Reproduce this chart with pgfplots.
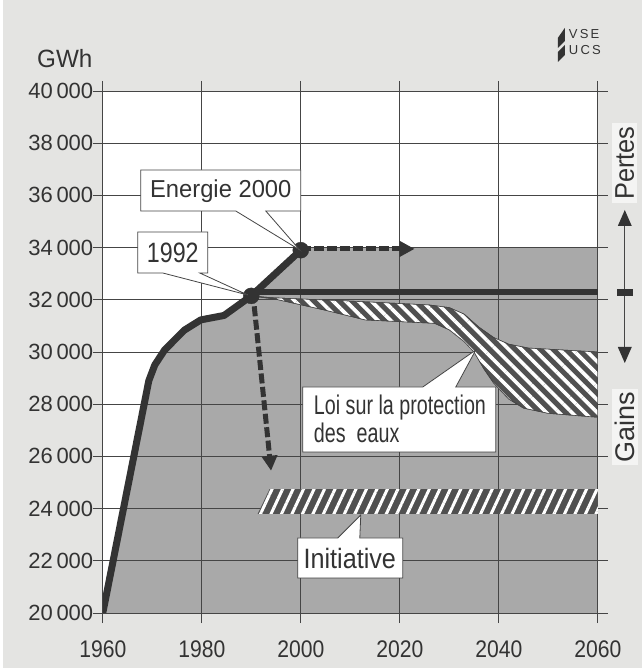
\documentclass[border=0pt]{standalone}
\usepackage{pgfplots}
\pgfplotsset{compat=1.18}
\usepackage{fontspec}
\setmainfont{Liberation Sans}
\newfontfamily\fx{Liberation Sans}[FakeStretch=0.88]
\usetikzlibrary{patterns.meta,arrows.meta}
\definecolor{paper}{HTML}{E4E4E2}
\definecolor{fillgray}{HTML}{A9A9A9}
\definecolor{gridc}{HTML}{454545}
\definecolor{linec}{HTML}{333333}
\definecolor{banddark}{HTML}{505050}
\begin{document}
\pgfplotsset{set layers}
\begin{tikzpicture}
\begin{pgfonlayer}{axis background}
\fill[paper] (0pt,0pt) rectangle (639pt,668pt);
\fill[white] (100pt,55pt) rectangle (595pt,577pt);
\end{pgfonlayer}
\begin{axis}[
  at={(100pt,55pt)}, anchor=south west,
  width=495pt, height=522pt, scale only axis,
  xmin=1960, xmax=2060, ymin=20000, ymax=40000,
  xtick={1960,1980,...,2060}, ytick={20000,22000,...,40000},
  grid=major, grid style={draw=gridc, line width=0.8pt},
  axis line style={draw=gridc, line width=0.9pt},
  tick style={draw=gridc, line width=0.9pt},
  tick align=outside, major tick length=10pt,
  scaled y ticks=false,
  /pgf/number format/assume math mode=true,
  yticklabel style={font=\fontsize{22}{22}\selectfont, text=linec,
     /pgf/number format/.cd, 1000 sep={\,}},
  xticklabel style={font=\fx\fontsize{24}{24}\selectfont, text=linec,
     /pgf/number format/.cd, 1000 sep={}},
  yticklabel shift=-4pt, xticklabel shift=14pt,
]
% gray area below the curve / 34000 level
\addplot[on layer=axis background, fill=fillgray, draw=none]
  coordinates {(1960,20000) (1969.3,28900) (1970.5,29500) (1972.5,30080)
  (1976.5,30840) (1979.8,31230) (1984.5,31400) (1990,32150) (2000,33900)
  (2000,34000) (2060,34000) (2060,20000)} --cycle;
% Loi sur la protection des eaux band
\addplot[draw=gridc, line width=0.6pt, fill=banddark,
  postaction={pattern={Lines[angle=-45,distance=9pt,line width=3.6pt]}, pattern color=white}]
  coordinates {(1990,32150) (1994,32080) (2010,31950) (2026,31800) (2030,31700)
  (2033,31450) (2036,30950) (2039,30550) (2042,30300) (2046,30150) (2060,30000)
  (2060,27500) (2050,27650) (2045,27850) (2042,28200) (2039,28800) (2037,29350)
  (2035,30000) (2033,30400) (2030,30850) (2027,31100) (2013,31230) (2005,31600)
  (1995,32020)} --cycle;
% Initiative band
\addplot[draw=none, fill=banddark,
  postaction={pattern={Lines[angle=65,distance=9.5pt,line width=3pt]}, pattern color=white}]
  coordinates {(1991.3,23800) (1993.7,24750) (2060,24750) (2060,23800)} --cycle;
% thick 1992 level
\addplot[line width=6.5pt, color=linec] coordinates {(1990,32300) (2060,32300)};
% main curve
\addplot[line width=7pt, color=linec, line join=round]
  coordinates {(1960,20000) (1969.3,28900) (1970.5,29500) (1972.5,30080)
  (1976.5,30840) (1979.8,31230) (1984.5,31400) (1990,32150) (2000,33900)};
% dashed arrows
\addplot[line width=5pt, color=linec, dash pattern=on 10pt off 3pt,
  -{Triangle[length=15pt,width=15pt]}] coordinates {(2000,33950) (2023,33950)};
\addplot[line width=5pt, color=linec, dash pattern=on 10pt off 3.5pt,
  -{Triangle[length=15pt,width=15pt]}] coordinates {(1990.6,31750) (1994,25450)};
% dots
\addplot[only marks, mark=*, mark size=8pt, color=linec] coordinates {(1990,32150) (2000,33900)};
\end{axis}
\begin{scope}[x=1pt, y=-1pt, shift={(0pt,668pt)}]
  % GWh
  \node[font=\fontsize{25}{25}\selectfont, text=linec, inner sep=0pt] at (62,59) {\scalebox{0.97}[1]{GWh}};
  % callout boxes
  \filldraw[fill=white, draw=gridc, line width=0.8pt]
    (138,170) -- (298,170) -- (298,211) -- (263,211) -- (297,250) -- (233,211) -- (138,211) -- cycle;
  \node[font=\fontsize{24.5}{24.5}\selectfont, text=linec, inner sep=0pt] at (218,191) {\scalebox{0.97}[1]{Energie 2000}};
  \filldraw[fill=white, draw=gridc, line width=0.8pt]
    (135,232) -- (205,232) -- (205,273) -- (197,273) -- (245,295) -- (160,273) -- (135,273) -- cycle;
  \node[font=\fontsize{28}{28}\selectfont, text=linec, inner sep=0pt] at (170,253) {\scalebox{0.83}[1]{1992}};
  \filldraw[fill=white, draw=gridc, line width=0.8pt]
    (300,387) -- (420,387) -- (473,350) -- (453,387) -- (493,387) -- (493,452) -- (300,452) -- cycle;
  \node[font=\fontsize{27}{27}\selectfont, text=linec, inner sep=0pt, anchor=base west] at (311,415) {\scalebox{0.73}[1]{Loi sur la protection}};
  \node[font=\fontsize{27}{27}\selectfont, text=linec, inner sep=0pt, anchor=base west] at (311,443) {\scalebox{0.73}[1]{des\ \ eaux}};
  \filldraw[fill=white, draw=gridc, line width=0.8pt]
    (295,538) -- (335,538) -- (358,515) -- (357,538) -- (400,538) -- (400,578) -- (295,578) -- cycle;
  \node[font=\fontsize{28}{28}\selectfont, text=linec, inner sep=0pt] at (347,558) {\scalebox{0.9}[1]{Initiative}};
  % right side: Pertes / Gains
  \node[rotate=90, fill=white!60!paper, inner sep=3pt, font=\fontsize{27}{27}\selectfont, text=linec] at (622,163) {\scalebox{0.94}[1]{Pertes}};
  \node[rotate=90, fill=white!60!paper, inner sep=3pt, font=\fontsize{27}{27}\selectfont, text=linec] at (622,427) {\scalebox{1.0}[1]{Gains}};
  \draw[gridc, line width=0.8pt] (622,224) -- (622,350);
  \fill[linec] (622,210) -- (629,226) -- (615,226) -- cycle;
  \fill[linec] (622,363) -- (629,347) -- (615,347) -- cycle;
  \fill[linec] (614,289) rectangle (630,296);
  % logo
  \fill[linec] (555,38) -- (562,28) -- (562,41) -- (555,48) -- cycle;
  \fill[linec] (555,52) -- (562,45) -- (562,55) -- (555,62) -- cycle;
  \node[font=\fontsize{13}{13}\selectfont, text=linec, inner sep=0pt, anchor=west] at (566,34) {V\,S\,E};
  \node[font=\fontsize{13}{13}\selectfont, text=linec, inner sep=0pt, anchor=west] at (566,50) {U\,C\,S};
\end{scope}
\end{tikzpicture}
\end{document}
